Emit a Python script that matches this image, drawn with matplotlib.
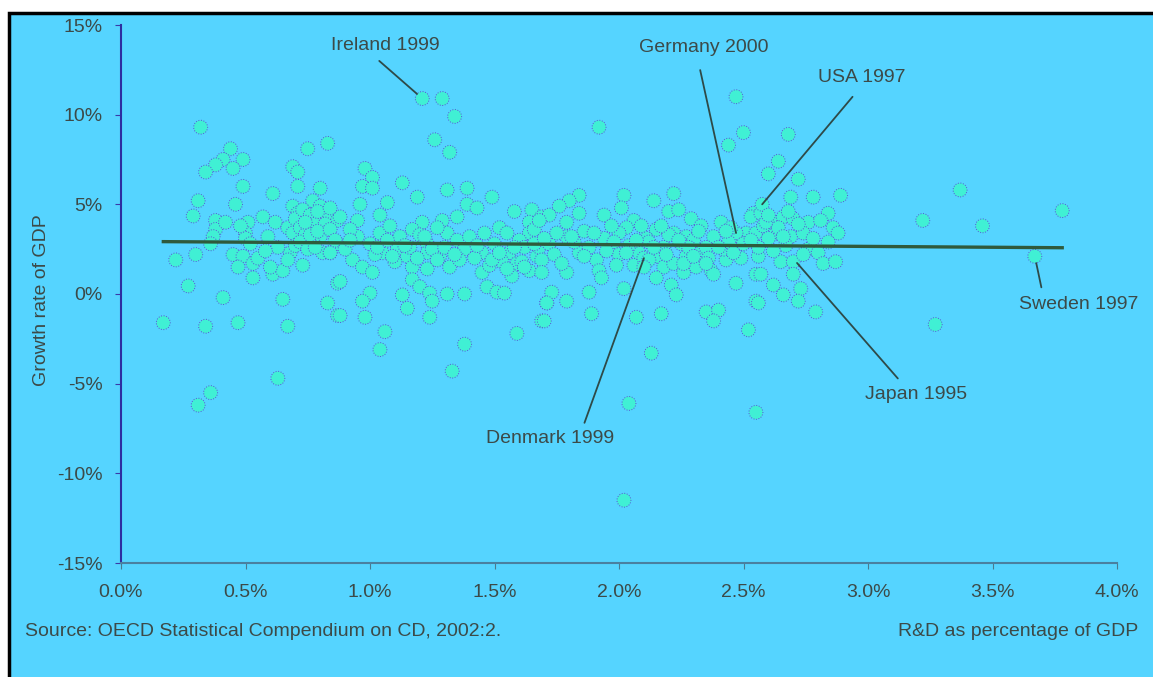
import numpy as np
import matplotlib
matplotlib.use("Agg")
from matplotlib import pyplot as plt
from matplotlib.patches import Rectangle

# R&D as % of GDP (x) and GDP growth rate % (y)
rd_share = [
    # low R&D group
    0.32, 0.44, 0.49, 0.41, 0.38, 0.34, 0.45, 0.49, 0.61, 0.75,
    0.83, 0.69, 0.71, 0.71, 0.80, 0.31, 0.46, 0.29, 0.38, 0.38,
    0.37, 0.51, 0.50, 0.50, 0.57, 0.62, 0.59, 0.67, 0.69, 0.71,
    0.72, 0.69, 0.75, 0.77, 0.80, 0.83, 0.81, 0.80, 0.87, 0.81,
    0.84, 0.22, 0.30, 0.45, 0.49, 0.47, 0.53, 0.53, 0.61, 0.65,
    0.68, 0.67, 0.73, 0.27, 0.41, 0.65, 0.83, 0.87, 0.87, 0.17,
    0.34, 0.47, 0.67, 0.63, 0.36, 0.31,
    0.70, 0.73, 0.76, 0.78, 0.72, 0.74, 0.77, 0.79, 0.82, 0.70,
    0.42, 0.36, 0.55, 0.60, 0.63, 0.48, 0.52, 0.58,
    # 0.85 - 1.7
    1.21, 1.29, 1.34, 1.26, 1.32, 0.98, 1.01, 0.97, 1.01, 1.13,
    1.19, 1.31, 1.39, 0.96, 1.07, 1.04, 0.88, 0.95, 0.84, 1.49,
    1.39, 1.43, 1.35, 1.58, 1.65, 1.69, 1.21, 1.29, 1.64, 1.52,
    1.46, 1.55, 1.04, 0.95, 1.17, 1.31, 1.64, 0.87, 1.00, 1.11,
    1.23, 1.35, 0.84, 0.93, 1.05, 1.11, 1.15, 1.23, 1.28, 1.32,
    1.45, 1.45, 1.56, 1.59, 1.64, 1.67, 0.97, 1.01, 1.17, 1.17,
    1.23, 0.88, 1.00, 0.97, 1.13, 1.15, 1.20, 1.24, 1.25, 1.31,
    1.38, 1.47, 1.51, 1.54, 1.71, 1.69, 0.88, 0.98, 1.24, 1.06,
    1.04, 1.38, 1.33, 1.59,
    1.08, 1.12, 1.16, 1.20, 1.25, 1.38, 1.42, 1.50, 1.53, 1.60,
    1.62, 1.02, 0.92, 1.10, 1.27, 1.36, 1.48, 1.57, 1.61, 1.66,
    # 1.7 - 2.55
    1.92, 2.47, 2.50, 2.44, 1.84, 1.80, 1.76, 1.72, 1.68, 1.84,
    1.79, 1.86, 1.79, 2.02, 2.01, 1.94, 2.06, 2.03, 2.00, 1.94,
    2.14, 2.22, 2.20, 2.24, 2.29, 2.33, 2.41, 2.54, 2.51, 2.15,
    2.22, 2.11, 2.27, 2.38, 2.47, 1.68, 1.72, 1.84, 1.91, 1.92,
    1.93, 1.69, 1.69, 1.79, 1.96, 2.06, 2.08, 2.15, 2.18, 2.15,
    2.21, 2.23, 2.22, 2.26, 2.27, 2.33, 2.31, 2.37, 2.38, 2.43,
    2.49, 2.47, 2.55, 2.02, 1.88, 1.73, 1.71, 1.79, 1.70, 1.89,
    2.07, 2.17, 2.35, 2.40, 2.38, 2.55, 2.52, 2.13, 2.04, 2.55,
    2.02, 2.10, 2.47,
    1.98, 2.04, 2.09, 2.12, 2.18, 2.25, 2.30, 2.35, 2.42, 2.45,
    1.75, 1.82, 1.88, 1.97, 2.00, 2.12, 2.20, 2.28, 2.36, 2.44,
    # high R&D group
    2.68, 2.64, 2.60, 2.72, 2.69, 2.78, 2.89, 3.37, 3.22, 2.53,
    2.57, 2.61, 2.66, 2.70, 2.84, 2.76, 2.86, 2.88, 2.55, 2.63,
    2.69, 2.74, 2.84, 2.76, 2.80, 2.82, 2.87, 2.56, 2.65, 2.70,
    2.70, 2.57, 2.62, 2.66, 2.73, 2.72, 2.56, 2.79, 3.27, 3.46,
    3.78, 3.67, 2.575,
    2.58, 2.60, 2.64, 2.67, 2.72, 2.56, 2.59,
    # crowded band near the trend line
    0.72, 0.75, 0.78, 0.74, 0.76, 0.79, 0.84, 0.86, 0.90, 0.92,
    1.03, 1.07, 1.09, 1.14, 1.19, 1.22, 1.27, 1.30, 1.34, 1.40,
    1.43, 1.49, 1.52, 1.55, 1.58, 1.62, 1.66, 1.70, 1.74, 1.77,
    1.81, 1.86, 1.90, 1.95, 1.99, 2.03, 2.07, 2.10, 2.14, 2.17,
    2.19, 2.24, 2.26, 2.30, 2.32, 2.35, 2.40, 2.43, 2.46, 2.50,
    2.62, 2.66, 2.74, 2.78, 2.81, 2.60, 2.68, 2.53,
]
gdp_growth = [
    9.3, 8.1, 7.5, 7.5, 7.2, 6.8, 7.0, 6.0, 5.6, 8.1,
    8.4, 7.1, 6.8, 6.0, 5.9, 5.2, 5.0, 4.35, 4.1, 3.6,
    3.2, 4.0, 3.4, 3.1, 4.3, 4.0, 3.2, 3.7, 4.9, 4.5,
    4.0, 3.4, 3.6, 5.2, 4.9, 4.3, 3.7, 3.2, 4.1, 2.3,
    2.3, 1.9, 2.2, 2.2, 2.1, 1.5, 1.7, 0.9, 1.1, 1.3,
    2.3, 1.9, 1.6, 0.45, -0.2, -0.3, -0.5, 0.6, -1.2, -1.6,
    -1.8, -1.6, -1.8, -4.7, -5.5, -6.2,
    4.2, 4.7, 4.4, 3.9, 3.7, 3.3, 3.0, 4.6, 3.9, 2.7,
    4.0, 2.8, 2.0, 1.5, 2.6, 3.8, 2.8, 2.4,
    10.9, 10.9, 9.9, 8.6, 7.9, 7.0, 6.5, 6.0, 5.9, 6.2,
    5.4, 5.8, 5.9, 5.0, 5.1, 4.4, 4.3, 4.1, 4.8, 5.4,
    5.0, 4.8, 4.3, 4.6, 4.7, 4.3, 4.0, 4.1, 4.0, 3.7,
    3.4, 3.4, 3.4, 3.2, 3.6, 3.4, 3.4, 2.8, 2.8, 3.0,
    2.8, 3.0, 2.3, 1.9, 2.3, 2.5, 2.1, 2.3, 2.1, 1.5,
    2.3, 1.2, 2.3, 1.7, 1.3, 2.1, 1.5, 1.2, 1.5, 0.8,
    1.4, 0.7, 0.05, -0.4, -0.05, -0.8, 0.4, 0.05, -0.4, 0.0,
    0.0, 0.4, 0.1, 0.05, -0.5, -1.5, -1.2, -1.3, -1.3, -2.1,
    -3.1, -2.8, -4.3, -2.2,
    3.8, 3.2, 2.6, 3.3, 2.5, 2.5, 2.0, 2.8, 1.8, 3.0,
    2.6, 2.2, 3.6, 1.8, 3.7, 1.9, 1.6, 1.0, 1.8, 3.6,
    9.3, 11.0, 9.0, 8.3, 5.5, 5.2, 4.9, 4.4, 4.1, 4.5,
    4.0, 3.5, 3.2, 5.5, 4.8, 4.4, 4.1, 3.7, 3.4, 3.1,
    5.2, 5.6, 4.6, 4.7, 4.2, 3.8, 4.0, 4.5, 3.4, 3.6,
    3.4, 3.1, 3.2, 3.2, 3.2, 2.6, 2.8, 2.3, 1.9, 1.3,
    0.9, 1.9, 1.2, 1.2, 2.5, 1.6, 2.3, 2.1, 1.5, 0.9,
    0.5, -0.05, 1.7, 1.2, 2.1, 2.3, 1.5, 1.3, 1.1, 1.9,
    2.0, 0.6, 1.1, 0.3, 0.1, 0.1, -0.5, -0.4, -1.5, -1.1,
    -1.3, -1.1, -1.0, -0.9, -1.5, -0.4, -2.0, -3.3, -6.1, -6.6,
    -11.5, 2.0, 3.4,
    2.9, 2.7, 3.8, 2.9, 2.6, 2.8, 3.0, 2.6, 2.5, 3.7,
    3.4, 2.9, 2.6, 3.8, 2.2, 1.9, 3.3, 2.6, 2.0, 2.9,
    8.9, 7.4, 6.7, 6.4, 5.4, 5.4, 5.5, 5.8, 4.1, 4.3,
    4.5, 4.1, 4.3, 4.2, 4.5, 4.0, 3.7, 3.4, 3.4, 3.4,
    3.2, 3.4, 2.9, 2.5, 2.3, 1.7, 1.8, 2.1, 1.8, 1.8,
    1.1, 1.1, 0.5, -0.05, 0.3, -0.4, -0.5, -1.0, -1.7, 3.8,
    4.65, 2.1, 5.0,
    3.8, 3.1, 3.7, 2.7, 3.9, 2.6, 4.0,
    2.9, 2.5, 2.6, 4.0, 3.3, 3.5, 3.6, 3.0, 2.5, 3.0,
    2.6, 3.0, 2.1, 2.7, 2.0, 3.2, 1.9, 2.6, 2.2, 3.2,
    2.7, 1.9, 2.3, 1.4, 2.6, 1.5, 2.8, 3.1, 2.2, 1.7,
    3.2, 2.1, 3.4, 2.4, 1.6, 2.3, 3.0, 1.5, 2.6, 3.8,
    2.2, 3.0, 1.7, 2.1, 3.5, 1.7, 2.6, 3.5, 2.3, 2.8,
    2.4, 3.2, 2.2, 3.1, 4.1, 4.4, 4.6, 3.0,
]

# trend line end points
trend_x = [0.17, 3.78]
trend_y = [2.92, 2.58]

# labelled observations
label_names = ["Ireland 1999", "Germany 2000", "USA 1997",
               "Denmark 1999", "Japan 1995", "Sweden 1997"]
label_x = [1.21, 2.47, 2.575, 2.10, 2.715, 3.67]
label_y = [10.9, 3.4, 5.0, 2.0, 1.73, 2.1]

x_ticks = [0.0, 0.5, 1.0, 1.5, 2.0, 2.5, 3.0, 3.5, 4.0]
x_ticklabels = ["0.0%", "0.5%", "1.0%", "1.5%", "2.0%", "2.5%", "3.0%", "3.5%", "4.0%"]
y_ticks = [-15, -10, -5, 0, 5, 10, 15]
y_ticklabels = ["-15%", "-10%", "-5%", "0%", "5%", "10%", "15%"]

BG = "#55D4FF"
DOT = "#40F0D4"
DOT_EDGE = "#5A50D8"
TXT = "#3C4A48"
LINE = "#2F5A3C"
FS = 14

plt.rcParams['font.family'] = ['Liberation Sans', 'DejaVu Sans']

W, H = 1153, 677
fig = plt.figure(figsize=(W/100, H/100), dpi=100)
fig.patch.set_facecolor("white")
fig.patches.append(Rectangle((9/W, -0.1), 1.2, (H-13)/H + 0.1, transform=fig.transFigure,
                             facecolor=BG, edgecolor="black", linewidth=2.5, zorder=-10))

ax = fig.add_axes([121/W, (H-563)/H, (1117-121)/W, (563-25)/H])
ax.set_facecolor("none")

ax.scatter(rd_share, gdp_growth, s=100, c=DOT, edgecolors=DOT_EDGE,
           linewidths=0.7, linestyles=':', zorder=3)
ax.plot(trend_x, trend_y, color=LINE, linewidth=2.4, zorder=4)

# label positions (pixel -> data conversion done by eye)
text_pos = [(1.06, 13.83), (2.34, 13.72), (2.976, 12.1),
            (1.723, -8.03), (3.193, -5.63), (3.847, -0.56)]
rel = [(0.38, 0.0), (0.45, 0.0), (0.5, 0.0), (0.75, 1.0), (0.39, 1.0), (0.2, 1.0)]
shrink_a = [4, 8, 8, 3, 5, 4]
shrink_b = [5, 0, 0, 0, 0, 5]
for i in range(len(label_names)):
    ax.annotate(label_names[i], xy=(label_x[i], label_y[i]), xytext=text_pos[i],
                ha='center', va='center', fontsize=FS, color=TXT, zorder=5,
                arrowprops=dict(arrowstyle='-', color="#2E4A48", linewidth=1.3,
                                relpos=rel[i], shrinkA=shrink_a[i], shrinkB=shrink_b[i]))

ax.set_xlim(0, 4.0)
ax.set_ylim(-15, 15)
ax.set_xticks(x_ticks)
ax.set_xticklabels(x_ticklabels)
ax.set_yticks(y_ticks)
ax.set_yticklabels(y_ticklabels)
ax.tick_params(axis='x', colors="#4A7A90", labelcolor=TXT, labelsize=FS, length=4, pad=11)
ax.tick_params(axis='y', colors="#3A3AA8", labelcolor=TXT, labelsize=FS, length=4, pad=9)
for s in ['top', 'right']:
    ax.spines[s].set_visible(False)
ax.spines['left'].set_color("#2E2EA0")
ax.spines['left'].set_linewidth(1.5)
ax.spines['bottom'].set_color("#4A80A0")
ax.spines['bottom'].set_linewidth(1.5)

fig.text(42/W, 1 - 300/H, "Growth rate of GDP", rotation=90, ha='center', va='center',
         fontsize=FS, color=TXT)
fig.text(25/W, 1 - 631/H, "Source: OECD Statistical Compendium on CD, 2002:2.",
         ha='left', va='center', fontsize=FS, color=TXT)
fig.text(1138/W, 1 - 631/H, "R&D as percentage of GDP", ha='right', va='center',
         fontsize=FS, color=TXT)

fig.savefig("out.png", dpi=100)
